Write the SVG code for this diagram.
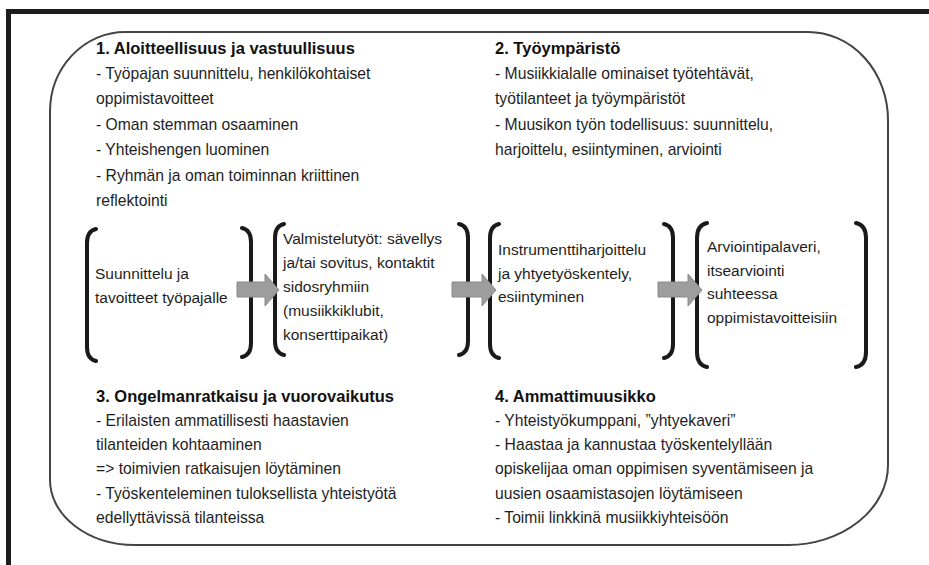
<svg xmlns="http://www.w3.org/2000/svg" width="929" height="565" viewBox="0 0 929 565">
<defs>
<style>
text{font-family:"Liberation Sans",Arial,sans-serif;font-size:15.7px;fill:#1e1e1e}
.h{font-weight:bold;fill:#111;font-size:16.5px}
.s{font-size:15.5px}
.br{fill:none;stroke:#1a1a1a;stroke-width:4;stroke-linecap:round;stroke-linejoin:round}
.ar{fill:#9d9d9d;stroke:#8a8a8a;stroke-width:1}
</style>
</defs>
<rect width="929" height="565" fill="#fff"/>
<path d="M8.5,565 V11.5 H929" fill="none" stroke="#1c1c1c" stroke-width="5"/>
<path id="frame" d="M125,32 H808 A80,88 0 0 1 888,120 V465 A100,80 0 0 1 788,545 H135 A85,65 0 0 1 50,480 V112 A75,80 0 0 1 125,32 Z" fill="none" stroke="#444" stroke-width="2"/>

<g id="section1">
<text x="96" y="54" class="h">1. Aloitteellisuus ja vastuullisuus</text>
<text x="96" y="79">- Työpajan suunnittelu, henkilökohtaiset</text>
<text x="96" y="104">oppimistavoitteet</text>
<text x="96" y="130">- Oman stemman osaaminen</text>
<text x="96" y="155">- Yhteishengen luominen</text>
<text x="96" y="181">- Ryhmän ja oman toiminnan kriittinen</text>
<text x="96" y="206">reflektointi</text>
</g>
<g id="section2">
<text x="495" y="54" class="h">2. Työympäristö</text>
<text x="495" y="79">- Musiikkialalle ominaiset työtehtävät,</text>
<text x="495" y="104">työtilanteet ja työympäristöt</text>
<text x="495" y="130">- Muusikon työn todellisuus: suunnittelu,</text>
<text x="495" y="155">harjoittelu, esiintyminen, arviointi</text>
</g>
<g id="section3">
<text x="96" y="402" class="h">3. Ongelmanratkaisu ja vuorovaikutus</text>
<text x="96" y="426">- Erilaisten ammatillisesti haastavien</text>
<text x="96" y="450">tilanteiden kohtaaminen</text>
<text x="96" y="474">=&gt; toimivien ratkaisujen löytäminen</text>
<text x="96" y="499">- Työskenteleminen tuloksellista yhteistyötä</text>
<text x="96" y="523">edellyttävissä tilanteissa</text>
</g>
<g id="section4">
<text x="495" y="402" class="h">4. Ammattimuusikko</text>
<text x="495" y="426">- Yhteistyökumppani, ”yhtyekaveri”</text>
<text x="495" y="450">- Haastaa ja kannustaa työskentelyllään</text>
<text x="495" y="474">opiskelijaa oman oppimisen syventämiseen ja</text>
<text x="495" y="499">uusien osaamistasojen löytämiseen</text>
<text x="495" y="523">- Toimii linkkinä musiikkiyhteisöön</text>
</g>

<g id="step1">
<path class="br" d="M96,229 Q87,231 87,243 V347 Q87,359 96,361"/>
<path class="br" d="M242,228 Q251,230 251,242 V343 Q251,355 242,357"/>
<text x="95" y="279" class="s">Suunnittelu ja</text>
<text x="95" y="303" class="s">tavoitteet työpajalle</text>
</g>
<g id="step2">
<path class="br" d="M284,224 Q275,226 275,238 V341 Q275,353 284,355"/>
<path class="br" d="M459,224 Q468,226 468,238 V341 Q468,353 459,355"/>
<text x="283" y="244" class="s">Valmistelutyöt: sävellys</text>
<text x="283" y="268" class="s">ja/tai sovitus, kontaktit</text>
<text x="283" y="292" class="s">sidosryhmiin</text>
<text x="283" y="316" class="s">(musiikkiklubit,</text>
<text x="283" y="340" class="s">konserttipaikat)</text>
</g>
<g id="step3">
<path class="br" d="M499,224 Q490,226 490,238 V344 Q490,356 499,358"/>
<path class="br" d="M664,224 Q673,226 673,238 V344 Q673,356 664,358"/>
<text x="498" y="255" class="s">Instrumenttiharjoittelu</text>
<text x="498" y="279" class="s">ja yhtyetyöskentely,</text>
<text x="498" y="302" class="s">esiintyminen</text>
</g>
<g id="step4">
<path class="br" d="M707,223 Q697,225 697,238 V352 Q697,365 707,367"/>
<path class="br" d="M856,223 Q866,225 866,238 V352 Q866,365 856,367"/>
<text x="707" y="252" class="s">Arviointipalaveri,</text>
<text x="707" y="276" class="s">itsearviointi</text>
<text x="707" y="299" class="s">suhteessa</text>
<text x="707" y="323" class="s">oppimistavoitteisiin</text>
</g>

<g id="connectors">
<path class="ar" d="M237,282 H265 V274 L279,290 L265,306 V297 H237 Z"/>
<path class="ar" d="M452,282 H482 V274 L496,290 L482,306 V297 H452 Z"/>
<path class="ar" d="M658,282 H688 V274 L702,290 L688,306 V297 H658 Z"/>
</g>
</svg>
